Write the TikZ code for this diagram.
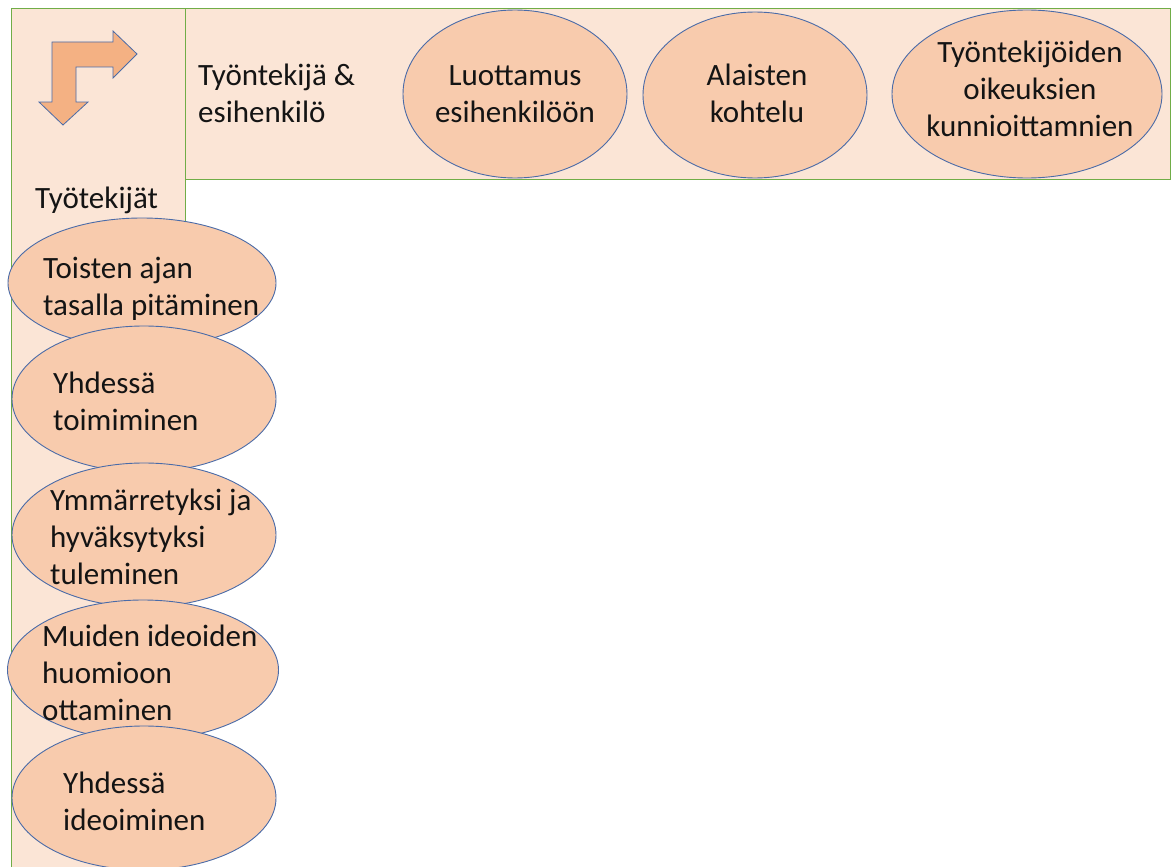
\documentclass[tikz,border=0pt]{standalone}
\usepackage{fontspec}
\setmainfont{Carlito}
\usetikzlibrary{shapes.geometric}
\definecolor{bandfill}{HTML}{FBE5D6}
\definecolor{bandline}{HTML}{70AD47}
\definecolor{ellfill}{HTML}{F8CBAD}
\definecolor{ellline}{HTML}{4A6BA8}
\definecolor{arrfill}{HTML}{F4B183}
\newcommand\lcol[1]{\begin{tabular}[t]{@{}l@{}}#1\end{tabular}}
\newcommand\ccol[1]{\begin{tabular}[t]{@{}c@{}}#1\end{tabular}}
\begin{document}
\begin{tikzpicture}[x=1pt,y=-1pt,
  band/.style={draw=bandline,fill=bandfill,line width=1pt},
  ell/.style={ellipse,draw=ellline,fill=ellfill,line width=0.9pt,inner sep=0pt},
  txt/.style={inner sep=0pt,font=\fontsize{31}{37}\selectfont,text=black!92},
  ltxt/.style={txt,anchor=base west},
  ctxt/.style={txt,anchor=base}]
\useasboundingbox (0,0) rectangle (1176,867);
% bands
\path[band] (11,9) rectangle (185,880);
\path[band] (185,9) rectangle (1170,179);
% bent arrow icon
\path[draw=ellline,fill=arrfill,line width=0.8pt,line join=miter]
  (52,42) -- (113,42) -- (113,31) -- (137,54) -- (113,78) -- (113,67)
  -- (76,67) -- (76,102) -- (88,102) -- (63,125) -- (39,102) -- (52,102) -- cycle;
% headers
\node[ltxt] (hdtop) at (198,85) {\lcol{Työntekijä \&\\esihenkilö}};
\node[ltxt] (hdleft) at (35,208) {Työtekijät};
% top ellipses
\node[ell,minimum width=224,minimum height=168] (t1) at (515,94) {};
\node[ctxt] (t1t) at (515,85) {\ccol{Luottamus\\esihenkilöön}};
\node[ell,minimum width=224,minimum height=166] (t2) at (755,95) {};
\node[ctxt] (t2t) at (757,85) {\ccol{Alaisten\\kohtelu}};
\node[ell,minimum width=270,minimum height=168] (t3) at (1027,94) {};
\node[ctxt] (t3t) at (1030,63) {\ccol{Työntekijöiden\\oikeuksien\\kunnioittamnien}};
% left ellipses
\node[ell,minimum width=268,minimum height=130] (l1) at (142,283) {};
\node[ltxt] (l1t) at (43,278) {\lcol{Toisten ajan\\tasalla pitäminen}};
\node[ell,minimum width=264,minimum height=146] (l2) at (144,399) {};
\node[ltxt] (l2t) at (53,393) {\lcol{Yhdessä\\toimiminen}};
\node[ell,minimum width=264,minimum height=144] (l3) at (144,535) {};
\node[ltxt] (l3t) at (50,510) {\lcol{Ymmärretyksi ja\\hyväksytyksi\\tuleminen}};
\node[ell,minimum width=271,minimum height=140] (l4) at (143,670) {};
\node[ltxt] (l4t) at (42,646) {\lcol{Muiden ideoiden\\huomioon\\ottaminen}};
\node[ell,minimum width=264,minimum height=144] (l5) at (144,798) {};
\node[ltxt] (l5t) at (63,793) {\lcol{Yhdessä\\ideoiminen}};
\end{tikzpicture}
\end{document}
